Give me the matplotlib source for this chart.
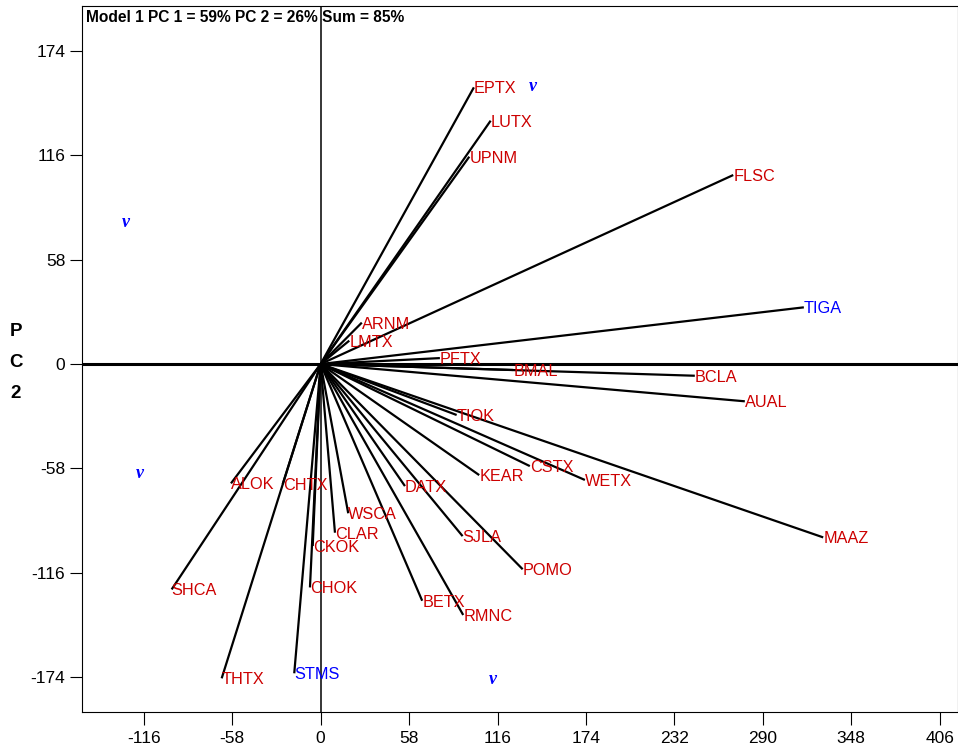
import matplotlib
matplotlib.use("Agg")
import matplotlib.pyplot as plt

plt.rcParams["axes.unicode_minus"] = False

# vector endpoints (PC1, PC2)
names = ["EPTX", "LUTX", "UPNM", "FLSC", "TIGA", "ARNM", "LMTX", "PFTX",
         "BMAL", "BCLA", "AUAL", "TIOK", "CSTX", "WETX", "MAAZ", "KEAR",
         "SJLA", "POMO", "RMNC", "BETX", "DATX", "WSCA", "CLAR", "CKOK",
         "CHOK", "CHTX", "ALOK", "SHCA", "THTX", "STMS"]
pc1 = [100.5, 111.5, 97.5, 270.6, 316.9, 27.0, 18.8, 78.2,
       126.3, 245.4, 278.2, 89.2, 137.2, 173.3, 329.6, 104.0,
       93.1, 132.5, 93.5, 66.6, 55.3, 18.1, 9.4, -5.2,
       -7.0, -24.9, -58.8, -97.7, -64.9, -17.3]
pc2 = [153.7, 135.2, 115.2, 105.0, 31.5, 23.0, 13.0, 3.3,
       -3.3, -6.5, -20.7, -28.3, -56.7, -64.4, -96.3, -61.7,
       -95.6, -114.0, -139.4, -131.5, -67.8, -82.9, -93.7, -101.1,
       -124.1, -66.7, -66.3, -125.2, -174.6, -171.8]
highlighted = ["TIGA", "STMS"]

# sector markers
v_x = [-127.7, 139.4, -118.9, 112.8]
v_y = [78.5, 154.1, -60.7, -175.2]

xticks = [-116, -58, 0, 58, 116, 174, 232, 290, 348, 406]
yticks = [-174, -116, -58, 0, 58, 116, 174]
title = "Model 1 PC 1 = 59% PC 2 = 26% Sum = 85%"

font = "Liberation Sans"

fig = plt.figure(figsize=(9.58, 7.52), dpi=100)
ax = fig.add_axes([82 / 958, 1 - 712 / 752, (958 - 82) / 958, (712 - 6) / 752])
ax.set_xlim(-156.5, 418)
ax.set_ylim(-193.3, 198.9)

ax.axhline(0, color="black", lw=2.2, zorder=2)
ax.axvline(0, color="black", lw=1.1, zorder=2)

for name, x, y in zip(names, pc1, pc2):
    ax.plot([0, x], [0, y], color="black", lw=1.6, solid_capstyle="butt", zorder=3)
    col = "#0000FF" if name in highlighted else "#CC0000"
    ax.annotate(name, (x, y), xytext=(0, -4.3), textcoords="offset points",
                ha="left", va="baseline", color=col, fontsize=11.7,
                family=font, zorder=4)

for x, y in zip(v_x, v_y):
    ax.text(x, y, "v", color="#0000FF", fontsize=13, family="Liberation Serif",
            style="italic", weight="bold", ha="center", va="center")

ax.set_xticks(xticks)
ax.set_yticks(yticks)
ax.tick_params(direction="out", length=9, width=0.8, labelsize=12.5)
ax.tick_params(axis="x", pad=5)
ax.tick_params(axis="y", pad=3)
for lab in ax.get_xticklabels() + ax.get_yticklabels():
    lab.set_family(font)
for sp in ax.spines.values():
    sp.set_linewidth(0.8)

ax.text(0.004, 1 - 11 / 706, title, transform=ax.transAxes, ha="left", va="center",
        fontsize=11.2, weight="bold", family=font)

for i, ch in enumerate("PC2"):
    fig.text(16 / 958, 1 - (331 + 31 * i) / 752, ch, ha="center", va="center",
             fontsize=13.5, weight="bold", family=font)

fig.savefig("out.png", dpi=100)
